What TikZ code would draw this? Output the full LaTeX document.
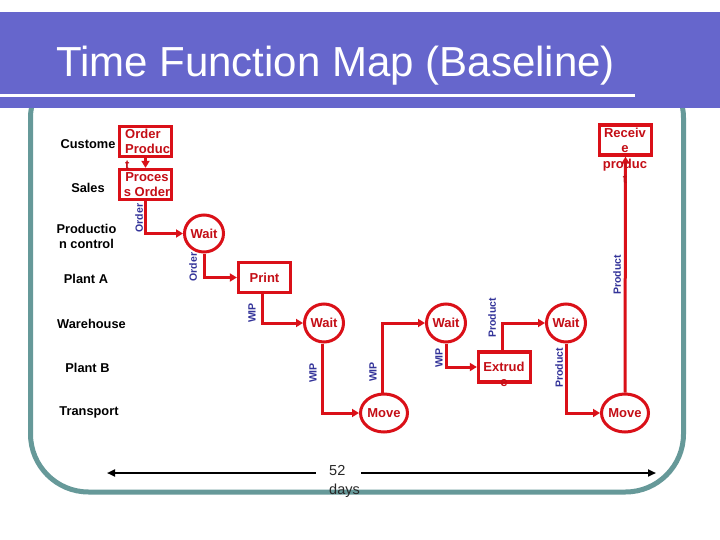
\documentclass[tikz,border=0pt]{standalone}
\usepackage{fontspec}
\setmainfont{Liberation Sans}
\usetikzlibrary{arrows.meta,shapes.geometric}
\definecolor{bandc}{RGB}{102,102,204}
\definecolor{frameteal}{RGB}{102,153,153}
\definecolor{cred}{RGB}{218,16,24}
\definecolor{ctext}{RGB}{196,14,22}
\definecolor{cblue}{RGB}{51,51,153}
\definecolor{cdays}{RGB}{40,40,40}
\begin{document}
\begin{tikzpicture}[x=1pt,y=-1pt,
  lane/.style={font=\bfseries\fontsize{12.8}{15}\selectfont, text=black, align=center, inner sep=0pt},
  proc/.style={draw=cred, line width=3.3pt, minimum width=52pt, minimum height=30pt, inner sep=0pt},
  btext/.style={font=\bfseries\fontsize{13}{15.2}\selectfont, text=ctext, inner sep=0pt, align=center},
  circ/.style={draw=cred, line width=3pt, ellipse, minimum width=39pt, minimum height=37pt, inner sep=0pt,
    font=\bfseries\fontsize{13}{15}\selectfont, text=ctext},
  flow/.style={draw=cred, line width=3pt, -{Triangle[length=7pt,width=8pt]}},
  lbl/.style={font=\bfseries\fontsize{10.5}{12}\selectfont, text=cblue, rotate=90, inner sep=0pt}
]
\useasboundingbox (0,0) rectangle (720,540);
\fill[white] (0,0) rectangle (720,540);
% frame and title band
\draw[frameteal, line width=5pt, rounded corners=58pt] (30.5,60) rectangle (683.5,492);
\fill[bandc] (0,12) rectangle (720,108);
\draw[white, line width=3pt] (0,95.5) -- (635,95.5);
\node[anchor=base west, text=white, inner sep=0pt, font=\fontsize{42}{42}\selectfont] (title) at (56,77) {Time Function Map (Baseline)};
% swimlane labels
\node[lane] (lcust) at (88,144) {Custome};
\node[lane] (lsales) at (88,188) {Sales};
\node[lane] (lprod) at (86.5,236) {Productio\\n control};
\node[lane] (lpa) at (86,279) {Plant A};
\node[lane] (lwh) at (91.5,324) {Warehouse};
\node[lane] (lpb) at (87.5,368) {Plant B};
\node[lane] (ltr) at (89,412) {Transport};
% boxes
\node[proc] (op) at (145.5,141.5) {};
\node[proc] (po) at (145.5,184.5) {};
\node[proc, font=\bfseries\fontsize{13}{15}\selectfont, text=ctext] (pr) at (264.5,277.5) {Print};
\node[proc] (ex) at (504.5,367) {};
\node[proc] (rc) at (625.5,140) {};
% circles
\node[circ] (w1) at (204,233.5) {Wait};
\node[circ, minimum height=38pt] (w2) at (324,323) {Wait};
\node[circ, minimum height=38pt] (m1) at (384,413) {Move};
\node[circ, minimum height=38pt] (w3) at (446,323) {Wait};
\node[circ, minimum height=38pt] (w4) at (566,323) {Wait};
\node[circ, minimum height=38pt] (m2) at (625,413) {Move};
% connectors
\draw[flow] (op.south) -- (po.north);
\draw[flow] (po.south) |- (w1.west);
\draw[flow] (w1.south) |- (pr.west);
\draw[flow] ([xshift=-2pt]pr.south) |- (w2.west);
\draw[flow] ([xshift=-2pt]w2.south) |- (m1.west);
\draw[flow] ([xshift=-2pt]m1.north) |- (w3.west);
\draw[flow] (w3.south) |- (ex.west);
\draw[flow] ([xshift=-2pt]ex.north) |- (w4.west);
\draw[flow] (w4.south) |- (m2.west);
\draw[flow] (m2.north) -- (rc.south);
% box texts
\node[btext, anchor=north west, align=left] (opt) at (125,129) {Order\\Produc\\t};
\node[btext, anchor=north] (pot) at (147,172) {Proces\\s Order};
\node[btext, anchor=north] (ext) at (504,362) {Extrud\\e};
\node[btext, anchor=north] (rct) at (625,128) {Receiv\\e\\produc\\t};
% flow labels
\node[lbl] (f1) at (139,218) {Order};
\node[lbl] (f2) at (193,267) {Order};
\node[lbl] (f3) at (252,313) {WIP};
\node[lbl] (f4) at (313,373) {WIP};
\node[lbl] (f5) at (373,372) {WIP};
\node[lbl] (f6) at (439,358) {WIP};
\node[lbl] (f7) at (492,318) {Product};
\node[lbl] (f8) at (559,368) {Product};
\node[lbl] (f9) at (617,275) {Product};
% time line
\coordinate (aL) at (107,473);
\coordinate (gL) at (316,473);
\coordinate (gR) at (361,473);
\coordinate (aR) at (656,473);
\draw[black, line width=2pt, {Triangle[length=8pt,width=7pt]}-] (aL) -- (gL);
\draw[black, line width=2pt, -{Triangle[length=8pt,width=7pt]}] (gR) -- (aR);
\node[anchor=north west, align=left, inner sep=0pt,
  font=\fontsize{14.5}{19}\selectfont, text=cdays] (days) at (329,465) {52\\days};
\end{tikzpicture}
\end{document}
